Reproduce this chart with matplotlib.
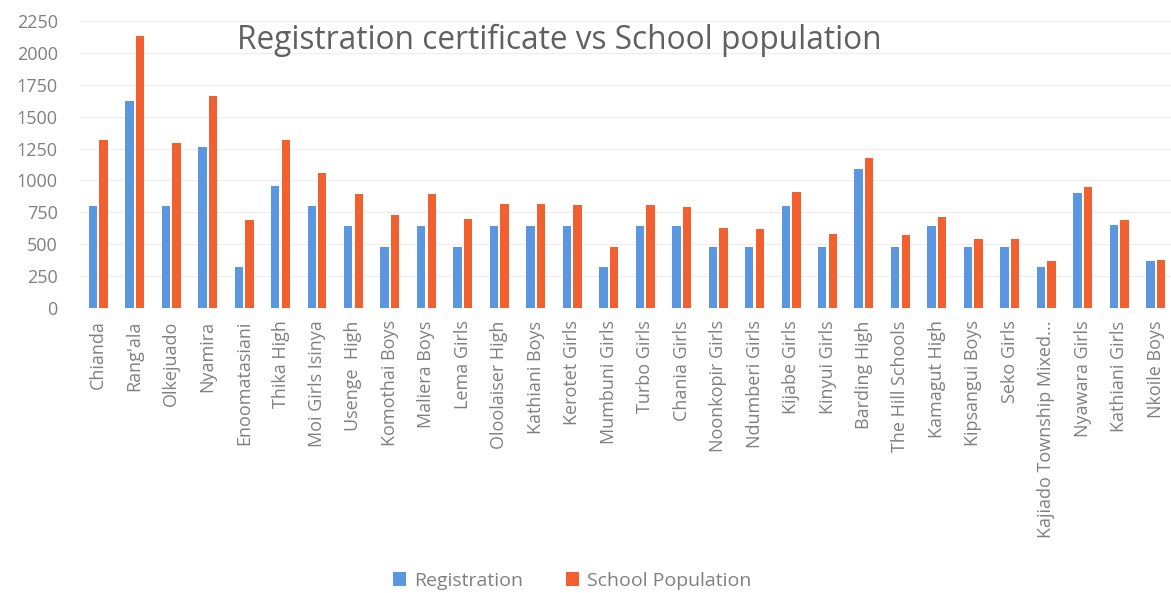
import matplotlib
matplotlib.use("Agg")
import matplotlib.pyplot as plt
import numpy as np

schools = ["Chianda", "Rang'ala", "Olkejuado", "Nyamira", "Enoomatasiani", "Thika High",
           "Moi Girls Isinya", "Usenge  High", "Komothai Boys", "Maliera Boys", "Lema Girls",
           "Oloolaiser High", "Kathiani Boys", "Kerotet Girls", "Mumbuni Girls", "Turbo Girls",
           "Chania Girls", "Noonkopir Girls", "Ndumberi Girls", "Kijabe Girls", "Kinyui Girls",
           "Barding High", "The Hill Schools", "Kamagut High", "Kipsangui Boys", "Seko Girls",
           "Kajiado Township Mixed...", "Nyawara Girls", "Kathiani Girls", "Nkoile Boys"]
registration = [800, 1620, 800, 1260, 320, 960, 800, 640, 480, 640, 480, 640, 640, 640, 320,
                640, 640, 480, 480, 800, 480, 1090, 480, 645, 480, 480, 325, 905, 650, 365]
population = [1320, 2130, 1290, 1660, 690, 1315, 1060, 895, 730, 890, 695, 815, 815, 805, 480,
              805, 795, 625, 620, 910, 580, 1175, 570, 710, 540, 540, 365, 950, 690, 375]
yticks = [0, 250, 500, 750, 1000, 1250, 1500, 1750, 2000, 2250]

plt.rcParams['font.family'] = ['Open Sans', 'DejaVu Sans']
W, H = 1171, 593
fig = plt.figure(figsize=(W/100, H/100), dpi=100)
ax = fig.add_axes([80/W, 1 - 308/H, (W - 80)/W, (308 - 21)/H])

x = np.arange(len(schools))
bw = 0.23
blue = '#5b96e0'
orange = '#f2602f'
ax.bar(x - 0.145, registration, width=bw, color=blue, label='Registration', zorder=3)
ax.bar(x + 0.145, population, width=bw, color=orange, label='School Population', zorder=3)

ax.set_ylim(0, 2250)
ax.set_xlim(-0.5, 29.42)
ax.set_yticks(yticks)
ax.set_yticklabels([str(v) for v in yticks], color='#808080', fontsize=13)
ax.set_xticks(x)
ax.set_xticklabels(schools, rotation=90, color='#808080', fontsize=13)
ax.tick_params(axis='both', length=0)
ax.tick_params(axis='x', pad=9)
ax.tick_params(axis='y', pad=16)
ax.grid(axis='y', color='#f6eaf0', linewidth=0.8, zorder=0)
for s in ax.spines.values():
    s.set_visible(False)

fig.text(559/W, 1 - 40/H, 'Registration certificate vs School population', ha='center', va='center',
         fontsize=22.8, color='#606060')

fig.legend(loc='center', bbox_to_anchor=(572/W, 1 - 581/H), ncol=2, frameon=False,
           fontsize=14, labelcolor='#808080', handlelength=0.7, handleheight=0.7,
           handletextpad=0.4, columnspacing=2.2)

fig.savefig('out.png', dpi=100, facecolor='white')
